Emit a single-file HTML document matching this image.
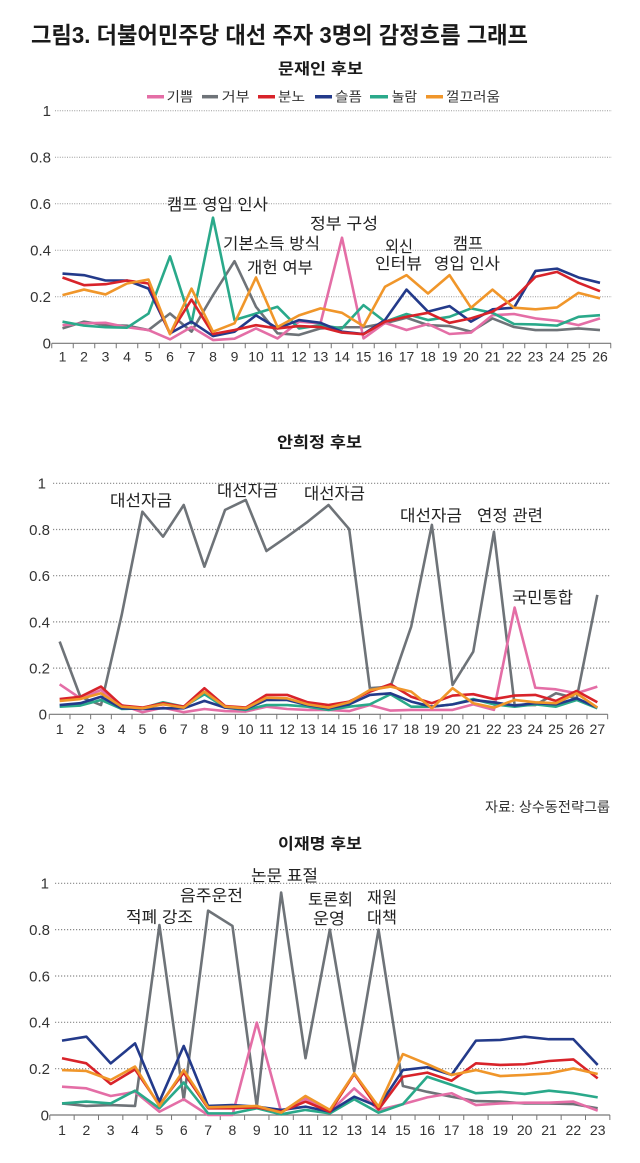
<!DOCTYPE html>
<html><head><meta charset="utf-8"><style>
html,body{margin:0;padding:0;background:#fff;}
svg{display:block;font-family:"Liberation Sans","Noto Sans CJK KR",sans-serif;}
.yl{font-size:15px;fill:#333;text-anchor:end;}
.xl{font-size:14px;fill:#333;text-anchor:middle;}
.an{font-size:16px;fill:#222;}
.lg{font-size:13.5px;fill:#333;}
.s{fill:none;stroke-width:2.6;stroke-linejoin:round;}
.g1{stroke:#999;stroke-width:1;stroke-dasharray:1 1.4;}
.g2{stroke:#8a8a8a;stroke-width:1.2;stroke-dasharray:1.2 1.8;}
.ax{stroke:#777;stroke-width:1.2;}
</style></head><body>
<svg width="640" height="1163" viewBox="0 0 640 1163" xmlns="http://www.w3.org/2000/svg">
<rect width="640" height="1163" fill="#fff"/>
<text x="31" y="43" font-size="23" font-weight="bold" fill="#1a1a1a" textLength="497" lengthAdjust="spacingAndGlyphs">그림3. 더불어민주당 대선 주자 3명의 감정흐름 그래프</text>

<!-- ===== Chart 1 ===== -->
<text x="278" y="74" font-size="15.5" font-weight="bold" fill="#1a1a1a" textLength="85" lengthAdjust="spacingAndGlyphs">문재인 후보</text>
<g>
<line x1="147" x2="164" y1="96.7" y2="96.7" stroke="#e46ea6" stroke-width="3.5"/>
<text class="lg" x="166.7" y="101.5" textLength="26.5" lengthAdjust="spacingAndGlyphs">기쁨</text>
<line x1="202" x2="218" y1="96.7" y2="96.7" stroke="#6e7378" stroke-width="3.5"/>
<text class="lg" x="221.7" y="101.5" textLength="28" lengthAdjust="spacingAndGlyphs">거부</text>
<line x1="258" x2="275" y1="96.7" y2="96.7" stroke="#d8232a" stroke-width="3.5"/>
<text class="lg" x="278" y="101.5" textLength="27" lengthAdjust="spacingAndGlyphs">분노</text>
<line x1="315" x2="332" y1="96.7" y2="96.7" stroke="#233a8a" stroke-width="3.5"/>
<text class="lg" x="335" y="101.5" textLength="27" lengthAdjust="spacingAndGlyphs">슬픔</text>
<line x1="370" x2="388" y1="96.7" y2="96.7" stroke="#2aa98a" stroke-width="3.5"/>
<text class="lg" x="391.7" y="101.5" textLength="25.5" lengthAdjust="spacingAndGlyphs">놀람</text>
<line x1="426" x2="443" y1="96.7" y2="96.7" stroke="#f0962a" stroke-width="3.5"/>
<text class="lg" x="446" y="101.5" textLength="54" lengthAdjust="spacingAndGlyphs">껄끄러움</text>
</g>
<g>
<line class="g1" x1="55" x2="612" y1="110.7" y2="110.7"/>
<line class="g1" x1="55" x2="612" y1="157.2" y2="157.2"/>
<line class="g1" x1="55" x2="612" y1="203.7" y2="203.7"/>
<line class="g1" x1="55" x2="612" y1="250.3" y2="250.3"/>
<line class="g1" x1="55" x2="612" y1="296.8" y2="296.8"/>
<line class="ax" x1="51.75" x2="611" y1="343.3" y2="343.3"/>
<line stroke="#777" stroke-width="5" stroke-dasharray="1 20.5" x1="51.25" x2="612" y1="345.8" y2="345.8"/>
</g>
<g>
<text class="yl" x="51" y="116">1</text>
<text class="yl" x="51" y="162.5">0.8</text>
<text class="yl" x="51" y="209">0.6</text>
<text class="yl" x="51" y="255.6">0.4</text>
<text class="yl" x="51" y="302">0.2</text>
<text class="yl" x="51" y="348.6">0</text>
</g>
<g>
<text class="xl" x="62.5" y="361.7">1</text><text class="xl" x="84" y="361.7">2</text><text class="xl" x="105.5" y="361.7">3</text><text class="xl" x="127" y="361.7">4</text><text class="xl" x="148.5" y="361.7">5</text><text class="xl" x="170" y="361.7">6</text><text class="xl" x="191.5" y="361.7">7</text><text class="xl" x="213" y="361.7">8</text><text class="xl" x="234.5" y="361.7">9</text><text class="xl" x="256" y="361.7">10</text><text class="xl" x="277.5" y="361.7">11</text><text class="xl" x="299" y="361.7">12</text><text class="xl" x="320.5" y="361.7">13</text><text class="xl" x="342" y="361.7">14</text><text class="xl" x="363.5" y="361.7">15</text><text class="xl" x="385" y="361.7">16</text><text class="xl" x="406.5" y="361.7">17</text><text class="xl" x="428" y="361.7">18</text><text class="xl" x="449.5" y="361.7">19</text><text class="xl" x="471" y="361.7">20</text><text class="xl" x="492.5" y="361.7">21</text><text class="xl" x="514" y="361.7">22</text><text class="xl" x="535.5" y="361.7">23</text><text class="xl" x="557" y="361.7">24</text><text class="xl" x="578.5" y="361.7">25</text><text class="xl" x="600" y="361.7">26</text>
</g>
<g transform="translate(41,343.3) scale(21.5,-232.6)">
<polyline class="s" vector-effect="non-scaling-stroke" stroke="#6e7378" points="1,.064 2,.093 3,.078 4,.076 5,.057 6,.128 7,.05 8,.207 9,.353 10,.157 11,.043 12,.036 13,.064 14,.069 15,.069 16,.086 17,.11 18,.078 19,.074 20,.05 21,.107 22,.07 23,.057 24,.057 25,.064 26,.057"/>
<polyline class="s" vector-effect="non-scaling-stroke" stroke="#e46ea6" points="1,.078 2,.086 3,.088 4,.069 5,.057 6,.017 7,.07 8,.014 9,.02 10,.064 11,.021 12,.093 13,.086 14,.454 15,.021 16,.088 17,.057 18,.083 19,.04 20,.046 21,.121 22,.126 23,.107 24,.097 25,.078 26,.107"/>
<polyline class="s" vector-effect="non-scaling-stroke" stroke="#2aa98a" points="1,.093 2,.076 3,.069 4,.067 5,.128 6,.374 7,.086 8,.54 9,.10 10,.128 11,.157 12,.064 13,.078 14,.064 15,.164 16,.093 17,.126 18,.10 19,.114 20,.15 21,.131 22,.083 23,.081 24,.076 25,.114 26,.121"/>
<polyline class="s" vector-effect="non-scaling-stroke" stroke="#233a8a" points="1,.30 2,.293 3,.27 4,.27 5,.235 6,.043 7,.093 8,.031 9,.05 10,.12 11,.064 12,.10 13,.088 14,.05 15,.04 16,.10 17,.231 18,.136 19,.16 20,.093 21,.146 22,.153 23,.311 24,.321 25,.283 26,.26"/>
<polyline class="s" vector-effect="non-scaling-stroke" stroke="#d8232a" points="1,.283 2,.25 3,.254 4,.27 5,.257 6,.04 7,.188 8,.04 9,.057 10,.078 11,.064 12,.074 13,.07 14,.046 15,.039 16,.093 17,.114 18,.131 19,.088 20,.107 21,.136 22,.193 23,.286 24,.307 25,.26 26,.224"/>
<polyline class="s" vector-effect="non-scaling-stroke" stroke="#f0962a" points="1,.207 2,.231 3,.21 4,.257 5,.274 6,.04 7,.235 8,.05 9,.086 10,.283 11,.07 12,.12 13,.15 14,.131 15,.074 16,.243 17,.293 18,.214 19,.293 20,.153 21,.231 22,.153 23,.146 24,.154 25,.217 26,.193"/>
</g>
<g>
<text class="an" x="167" y="210" textLength="101" lengthAdjust="spacingAndGlyphs">캠프 영입 인사</text>
<text class="an" x="223" y="249" textLength="97" lengthAdjust="spacingAndGlyphs">기본소득 방식</text>
<text class="an" x="247" y="273" textLength="66" lengthAdjust="spacingAndGlyphs">개헌 여부</text>
<text class="an" x="310" y="229" textLength="68" lengthAdjust="spacingAndGlyphs">정부 구성</text>
<text class="an" x="385" y="252" textLength="28" lengthAdjust="spacingAndGlyphs">외신</text>
<text class="an" x="375" y="269" textLength="47" lengthAdjust="spacingAndGlyphs">인터뷰</text>
<text class="an" x="453" y="249" textLength="30" lengthAdjust="spacingAndGlyphs">캠프</text>
<text class="an" x="434" y="269" textLength="66" lengthAdjust="spacingAndGlyphs">영입 인사</text>
</g>

<!-- ===== Chart 2 ===== -->
<text x="277" y="447.5" font-size="15.5" font-weight="bold" fill="#1a1a1a" textLength="85" lengthAdjust="spacingAndGlyphs">안희정 후보</text>
<g>
<line class="g2" x1="53" x2="610" y1="483.3" y2="483.3"/>
<line class="g2" x1="53" x2="610" y1="529.5" y2="529.5"/>
<line class="g2" x1="53" x2="610" y1="575.7" y2="575.7"/>
<line class="g2" x1="53" x2="610" y1="621.9" y2="621.9"/>
<line class="g2" x1="53" x2="610" y1="668.1" y2="668.1"/>
<line class="ax" x1="49.3" x2="607.7" y1="714.3" y2="714.3"/>
<line stroke="#777" stroke-width="5" stroke-dasharray="1 19.68" x1="48.8" x2="609" y1="716.8" y2="716.8"/>
</g>
<g>
<text class="yl" x="46" y="488.7">1</text>
<text class="yl" x="50" y="534.9">0.8</text>
<text class="yl" x="50" y="581.1">0.6</text>
<text class="yl" x="50" y="627.3">0.4</text>
<text class="yl" x="50" y="673.5">0.2</text>
<text class="yl" x="47" y="719.7">0</text>
</g>
<g>
<text class="xl" x="59.65" y="734">1</text><text class="xl" x="80.33" y="734">2</text><text class="xl" x="101.01" y="734">3</text><text class="xl" x="121.69" y="734">4</text><text class="xl" x="142.37" y="734">5</text><text class="xl" x="163.05" y="734">6</text><text class="xl" x="183.73" y="734">7</text><text class="xl" x="204.41" y="734">8</text><text class="xl" x="225.09" y="734">9</text><text class="xl" x="245.77" y="734">10</text><text class="xl" x="266.45" y="734">11</text><text class="xl" x="287.13" y="734">12</text><text class="xl" x="307.81" y="734">13</text><text class="xl" x="328.49" y="734">14</text><text class="xl" x="349.17" y="734">15</text><text class="xl" x="369.85" y="734">16</text><text class="xl" x="390.53" y="734">17</text><text class="xl" x="411.21" y="734">18</text><text class="xl" x="431.89" y="734">19</text><text class="xl" x="452.57" y="734">20</text><text class="xl" x="473.25" y="734">21</text><text class="xl" x="493.93" y="734">22</text><text class="xl" x="514.61" y="734">23</text><text class="xl" x="535.29" y="734">24</text><text class="xl" x="555.97" y="734">25</text><text class="xl" x="576.65" y="734">26</text><text class="xl" x="597.33" y="734">27</text>
</g>
<g transform="translate(38.97,714.3) scale(20.68,-231)">
<polyline class="s" vector-effect="non-scaling-stroke" stroke="#6e7378" points="1,.315 2,.076 3,.04 4,.43 5,.877 6,.769 7,.906 8,.639 9,.885 10,.928 11,.707 12,.769 13,.834 14,.906 15,.802 16,.113 17,.12 18,.38 19,.82 20,.127 21,.271 22,.79 23,.04 24,.04 25,.091 26,.069 27,.517"/>
<polyline class="s" vector-effect="non-scaling-stroke" stroke="#e46ea6" points="1,.13 2,.069 3,.105 4,.04 5,.009 6,.029 7,.009 8,.023 9,.014 10,.012 11,.033 12,.023 13,.019 14,.019 15,.014 16,.04 17,.016 18,.019 19,.019 20,.019 21,.043 22,.019 23,.462 24,.115 25,.108 26,.091 27,.12"/>
<polyline class="s" vector-effect="non-scaling-stroke" stroke="#2aa98a" points="1,.033 2,.038 3,.062 4,.023 5,.026 6,.052 7,.033 8,.087 9,.029 10,.019 11,.04 12,.04 13,.033 14,.019 15,.033 16,.043 17,.087 18,.033 19,.033 20,.043 21,.066 22,.043 23,.033 24,.043 25,.033 26,.062 27,.026"/>
<polyline class="s" vector-effect="non-scaling-stroke" stroke="#233a8a" points="1,.04 2,.048 3,.076 4,.026 5,.023 6,.026 7,.026 8,.058 9,.029 10,.023 11,.062 12,.062 13,.04 14,.026 15,.043 16,.084 17,.091 18,.055 19,.033 20,.043 21,.062 22,.052 23,.038 24,.048 25,.043 26,.069 27,.029"/>
<polyline class="s" vector-effect="non-scaling-stroke" stroke="#d8232a" points="1,.066 2,.076 3,.12 4,.038 5,.029 6,.048 7,.033 8,.113 9,.036 10,.029 11,.084 12,.084 13,.052 14,.04 15,.055 16,.098 17,.13 18,.076 19,.048 20,.081 21,.087 22,.066 23,.081 24,.084 25,.058 26,.101 27,.052"/>
<polyline class="s" vector-effect="non-scaling-stroke" stroke="#f0962a" points="1,.058 2,.066 3,.091 4,.033 5,.026 6,.043 7,.029 8,.098 9,.033 10,.026 11,.072 12,.069 13,.043 14,.029 15,.052 16,.105 17,.12 18,.098 19,.026 20,.113 21,.048 22,.029 23,.062 24,.052 25,.048 26,.091 27,.029"/>
</g>
<g>
<text class="an" x="110" y="506" textLength="62" lengthAdjust="spacingAndGlyphs">대선자금</text>
<text class="an" x="217" y="496" textLength="61" lengthAdjust="spacingAndGlyphs">대선자금</text>
<text class="an" x="304" y="499" textLength="61" lengthAdjust="spacingAndGlyphs">대선자금</text>
<text class="an" x="400" y="521" textLength="62" lengthAdjust="spacingAndGlyphs">대선자금</text>
<text class="an" x="477" y="521" textLength="66" lengthAdjust="spacingAndGlyphs">연정 관련</text>
<text class="an" x="512" y="603" textLength="61" lengthAdjust="spacingAndGlyphs">국민통합</text>
</g>

<!-- ===== Chart 3 ===== -->
<text x="485" y="812" font-size="14" fill="#333" textLength="125" lengthAdjust="spacingAndGlyphs">자료: 상수동전략그룹</text>
<text x="278" y="849" font-size="15.5" font-weight="bold" fill="#1a1a1a" textLength="84" lengthAdjust="spacingAndGlyphs">이재명 후보</text>
<g>
<line class="g2" x1="55" x2="611" y1="883.3" y2="883.3"/>
<line class="g2" x1="55" x2="611" y1="929.6" y2="929.6"/>
<line class="g2" x1="55" x2="611" y1="976" y2="976"/>
<line class="g2" x1="55" x2="611" y1="1022.3" y2="1022.3"/>
<line class="g2" x1="55" x2="611" y1="1068.7" y2="1068.7"/>
<line class="ax" x1="49.8" x2="609.9" y1="1115" y2="1115"/>
<line stroke="#777" stroke-width="5" stroke-dasharray="1 23.35" x1="49.3" x2="611" y1="1117.5" y2="1117.5"/>
</g>
<g>
<text class="yl" x="49" y="888.7">1</text>
<text class="yl" x="50" y="935">0.8</text>
<text class="yl" x="50" y="981.4">0.6</text>
<text class="yl" x="50" y="1027.7">0.4</text>
<text class="yl" x="50" y="1074.1">0.2</text>
<text class="yl" x="49" y="1120.4">0</text>
</g>
<g>
<text class="xl" x="62" y="1135">1</text><text class="xl" x="86.35" y="1135">2</text><text class="xl" x="110.7" y="1135">3</text><text class="xl" x="135.05" y="1135">4</text><text class="xl" x="159.4" y="1135">5</text><text class="xl" x="183.75" y="1135">6</text><text class="xl" x="208.1" y="1135">7</text><text class="xl" x="232.45" y="1135">8</text><text class="xl" x="256.8" y="1135">9</text><text class="xl" x="281.15" y="1135">10</text><text class="xl" x="305.5" y="1135">11</text><text class="xl" x="329.85" y="1135">12</text><text class="xl" x="354.2" y="1135">13</text><text class="xl" x="378.55" y="1135">14</text><text class="xl" x="402.9" y="1135">15</text><text class="xl" x="427.25" y="1135">16</text><text class="xl" x="451.6" y="1135">17</text><text class="xl" x="475.95" y="1135">18</text><text class="xl" x="500.3" y="1135">19</text><text class="xl" x="524.65" y="1135">20</text><text class="xl" x="549" y="1135">21</text><text class="xl" x="573.35" y="1135">22</text><text class="xl" x="597.7" y="1135">23</text>
</g>
<g transform="translate(37.65,1115) scale(24.35,-231.7)">
<polyline class="s" vector-effect="non-scaling-stroke" stroke="#6e7378" points="1,.05 2,.039 3,.043 4,.039 5,.82 6,.065 7,.882 8,.816 9,.036 10,.96 11,.245 12,.80 13,.187 14,.80 15,.125 16,.10 17,.079 18,.06 19,.058 20,.05 21,.05 22,.047 23,.029"/>
<polyline class="s" vector-effect="non-scaling-stroke" stroke="#e46ea6" points="1,.122 2,.115 3,.082 4,.10 5,.014 6,.068 7,0 8,0 9,.399 10,.014 11,.072 12,.014 13,.115 14,.022 15,.047 16,.076 17,.094 18,.043 19,.05 20,.053 21,.053 22,.058 23,.019"/>
<polyline class="s" vector-effect="non-scaling-stroke" stroke="#2aa98a" points="1,.05 2,.058 3,.05 4,.105 5,.029 6,.14 7,.007 8,.007 9,.029 10,.003 11,.022 12,.007 13,.068 14,.01 15,.047 16,.165 17,.13 18,.094 19,.10 20,.091 21,.105 22,.094 23,.076"/>
<polyline class="s" vector-effect="non-scaling-stroke" stroke="#233a8a" points="1,.321 2,.338 3,.223 4,.309 5,.058 6,.298 7,.039 8,.043 9,.036 10,.022 11,.036 12,.014 13,.079 14,.036 15,.194 16,.206 17,.173 18,.321 19,.324 20,.338 21,.327 22,.327 23,.216"/>
<polyline class="s" vector-effect="non-scaling-stroke" stroke="#d8232a" points="1,.245 2,.223 3,.134 4,.197 5,.043 6,.183 7,.029 8,.029 9,.033 10,.014 11,.058 12,.014 13,.177 14,.024 15,.165 16,.183 17,.148 18,.223 19,.216 20,.219 21,.233 22,.24 23,.158"/>
<polyline class="s" vector-effect="non-scaling-stroke" stroke="#f0962a" points="1,.194 2,.19 3,.151 4,.209 5,.039 6,.194 7,.033 8,.036 9,.039 10,.01 11,.082 12,.022 13,.18 14,.036 15,.263 16,.22 17,.173 18,.194 19,.168 20,.173 21,.18 22,.201 23,.177"/>
</g>
<g>
<text class="an" x="126" y="922.7" textLength="67" lengthAdjust="spacingAndGlyphs">적폐 강조</text>
<text class="an" x="180" y="901" textLength="63" lengthAdjust="spacingAndGlyphs">음주운전</text>
<text class="an" x="251" y="881" textLength="67" lengthAdjust="spacingAndGlyphs">논문 표절</text>
<text class="an" x="308" y="905" textLength="45" lengthAdjust="spacingAndGlyphs">토론회</text>
<text class="an" x="313" y="924" textLength="32" lengthAdjust="spacingAndGlyphs">운영</text>
<text class="an" x="367" y="903" textLength="30" lengthAdjust="spacingAndGlyphs">재원</text>
<text class="an" x="367" y="923" textLength="30" lengthAdjust="spacingAndGlyphs">대책</text>
</g>
</svg>
</body></html>
